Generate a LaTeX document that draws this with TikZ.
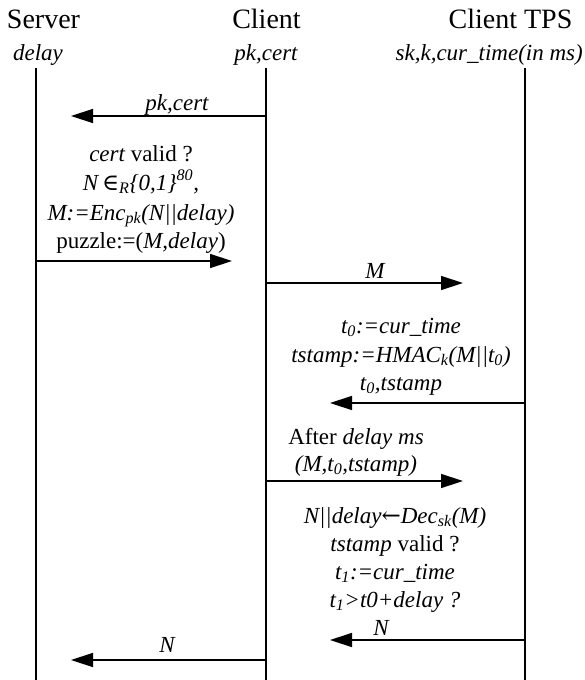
\documentclass[tikz,border=0pt]{standalone}
\usepackage{fontspec}
\setmainfont{Liberation Serif}
\newfontfamily\symfont{DejaVu Serif}
\usetikzlibrary{arrows.meta}

\tikzset{
  party/.style={font=\fontsize{28}{32}\selectfont, anchor=base, inner sep=0pt},
  note/.style={font=\fontsize{23}{27}\selectfont\itshape, anchor=base, inner sep=0pt},
  lifeline/.style={line width=1.4pt},
  msg/.style={line width=1.4pt, -{Triangle[length=22pt,width=14pt]}},
}
\newcommand{\up}[1]{{\upshape #1}}

\begin{document}
\begin{tikzpicture}[x=1pt,y=-1pt]
  \useasboundingbox (0,0) rectangle (584,680);
  % parties and their keys
  \node[party] (srv) at (43.5,28) {Server};
  \node[party] (cli) at (266.5,28) {Client};
  \node[party] (tps) at (510.5,28) {Client TPS};
  \node[note] (srvkey) at (38,60) {delay};
  \node[note] (clikey) at (266,60) {pk,cert};
  \node[note,anchor=base east] (tpskey) at (583,60) {sk,k,cur\_time(in ms)};
  % lifelines
  \coordinate (srvtop) at (36,68);  \coordinate (srvbot) at (36,680);
  \coordinate (clitop) at (266,68); \coordinate (clibot) at (266,680);
  \coordinate (tpstop) at (525,68); \coordinate (tpsbot) at (525,680);
  \draw[lifeline] (srvtop) -- (srvbot);
  \draw[lifeline] (clitop) -- (clibot);
  \draw[lifeline] (tpstop) -- (tpsbot);
  % pk,cert
  \coordinate (pkfrom) at (266,116); \coordinate (pkto) at (71,116);
  \draw[msg] (pkfrom) -- (pkto);
  \node[note] (pklab) at (177,110) {pk,cert};
  % puzzle
  \node[note] (chk) at (141,161) {cert \up{valid ?}};
  \node[note] (nonce) at (141,190) {N\,{\symfont ∈}\textsubscript{R}\{0,1\}\textsuperscript{80},};
  \node[note] (enc) at (141,220) {M:=Enc\textsubscript{pk}(N||delay)};
  \node[note] (puz) at (141,248) {\up{puzzle:=(}M,delay\up{)}};
  \coordinate (puzfrom) at (36,261); \coordinate (puzto) at (232,261);
  \draw[msg] (puzfrom) -- (puzto);
  % M to TPS
  \coordinate (mfrom) at (266,283); \coordinate (mto) at (463,283);
  \draw[msg] (mfrom) -- (mto);
  \node[note] (mlab) at (375,278) {M};
  % time stamp
  \node[note] (tzero) at (401,333) {t\textsubscript{0}:=cur\_time};
  \node[note] (hmac) at (401,362) {tstamp:=HMAC\textsubscript{k}(M||t\textsubscript{0})};
  \node[note] (tslab) at (401,390) {t\textsubscript{0},tstamp};
  \coordinate (tsfrom) at (525,403); \coordinate (tsto) at (330,403);
  \draw[msg] (tsfrom) -- (tsto);
  % after delay
  \node[note] (wait) at (356,444) {\up{After} delay ms};
  \node[note] (sendlab) at (356,471) {(M,t\textsubscript{0},tstamp)};
  \coordinate (sendfrom) at (266,481); \coordinate (sendto) at (463,481);
  \draw[msg] (sendfrom) -- (sendto);
  % checks in TPS
  \node[note] (dec) at (395,523) {N||delay{\symfont\upshape ←}Dec\textsubscript{sk}(M)};
  \node[note] (tsok) at (395,551) {tstamp \up{valid ?}};
  \node[note] (tone) at (395,579) {t\textsubscript{1}:=cur\_time};
  \node[note] (late) at (395,607) {t\textsubscript{1}>t0+delay ?};
  \node[note] (nlab) at (381,635) {N};
  \coordinate (nfrom) at (525,640); \coordinate (nto) at (330,640);
  \draw[msg] (nfrom) -- (nto);
  % N back to server
  \node[note] (nsrvlab) at (167,652) {N};
  \coordinate (nsfrom) at (266,660); \coordinate (nsto) at (71,660);
  \draw[msg] (nsfrom) -- (nsto);
\end{tikzpicture}
\end{document}
